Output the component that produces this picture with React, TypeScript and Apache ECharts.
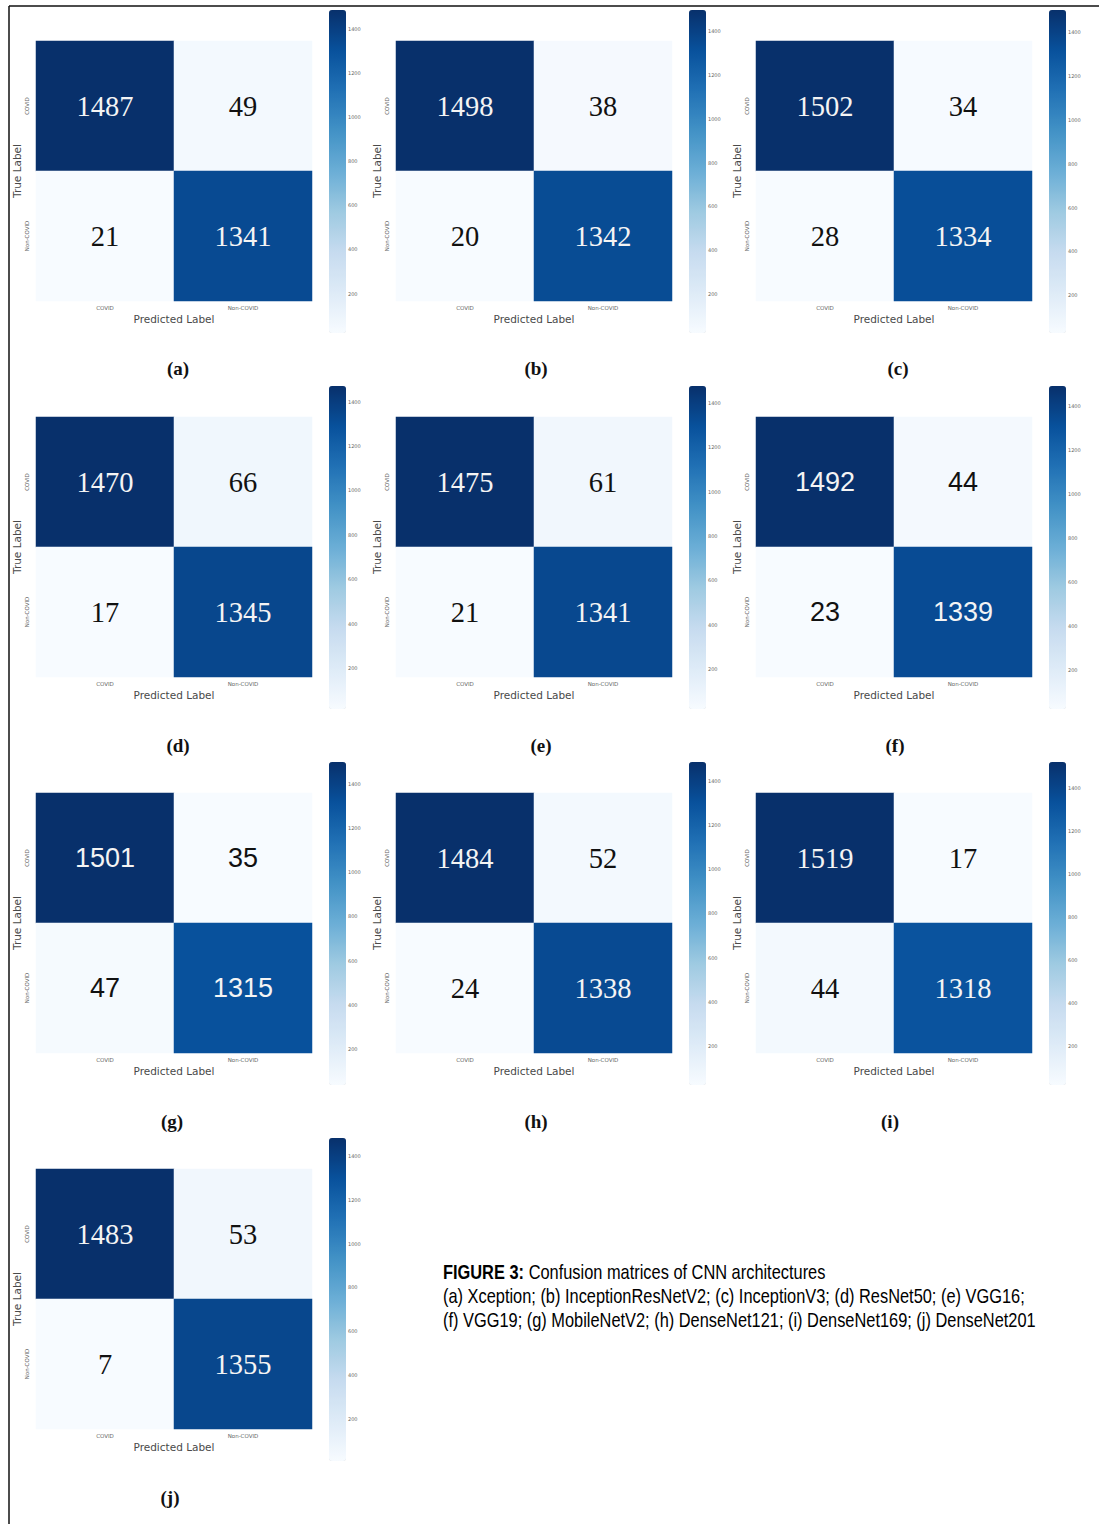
import React, { useEffect, useRef } from 'react';
import * as echarts from 'echarts';

// ---- data ----
const CATEGORIES = ['COVID', 'Non-COVID'];
// order: [true COVID/pred COVID, true COVID/pred Non-COVID, true Non-COVID/pred COVID, true Non-COVID/pred Non-COVID]
const XCEPTION = [1487, 49, 21, 1341];
const INCEPTION_RESNET_V2 = [1498, 38, 20, 1342];
const INCEPTION_V3 = [1502, 34, 28, 1334];
const RESNET50 = [1470, 66, 17, 1345];
const VGG16 = [1475, 61, 21, 1341];
const VGG19 = [1492, 44, 23, 1339];
const MOBILENET_V2 = [1501, 35, 47, 1315];
const DENSENET121 = [1484, 52, 24, 1338];
const DENSENET169 = [1519, 17, 44, 1318];
const DENSENET201 = [1483, 53, 7, 1355];
const PANELS = [XCEPTION, INCEPTION_RESNET_V2, INCEPTION_V3, RESNET50, VGG16, VGG19, MOBILENET_V2, DENSENET121, DENSENET169, DENSENET201];
const PANEL_TAGS = ['(a)', '(b)', '(c)', '(d)', '(e)', '(f)', '(g)', '(h)', '(i)', '(j)'];
const COLORBAR_TICKS = [200, 400, 600, 800, 1000, 1200, 1400];
const X_NAME = 'Predicted Label';
const Y_NAME = 'True Label';
const CAPTION_TITLE = 'FIGURE 3:';
const CAPTION_LINE1 = ' Confusion matrices of CNN architectures';
const CAPTION_LINE2 = '(a) Xception; (b) InceptionResNetV2; (c) InceptionV3; (d) ResNet50; (e) VGG16;';
const CAPTION_LINE3 = '(f) VGG19; (g) MobileNetV2; (h) DenseNet121; (i) DenseNet169; (j) DenseNet201';

// ---- styles / layout ----
const BLUES = ['#f7fbff', '#deebf7', '#c6dbef', '#9ecae1', '#6baed6', '#4292c6', '#2171b5', '#08519c', '#08306b'];
const NUMBER_FONT = ['serif', 'serif', 'serif', 'serif', 'serif', 'sans', 'sans', 'serif', 'serif', 'serif'];
const SERIF = 'Liberation Serif';
const SANS = 'Liberation Sans';
const COL_X = [36, 396, 756];
const ROW_Y = [41, 417, 793, 1169];
const TAG_POS = [
  [178, 368], [536, 368], [898, 368],
  [178, 745], [541, 745], [895, 745],
  [172, 1121], [536, 1121], [890, 1121],
  [170, 1497],
];

function buildOption() {
  const grid: any[] = [];
  const xAxis: any[] = [];
  const yAxis: any[] = [];
  const series: any[] = [];
  const visualMap: any[] = [];
  const graphic: any[] = [];

  PANELS.forEach((vals, i) => {
    const r = Math.floor(i / 3);
    const c = i % 3;
    const gx = COL_X[c];
    const gy = ROW_Y[r];
    const mn = Math.min(...vals);
    const mx = Math.max(...vals);
    grid.push({ left: gx, top: gy, width: 276, height: 260, containLabel: false });
    grid.push({ left: gx + 293, top: gy - 31, width: 17, height: 323, containLabel: false });
    const hg = 2 * i;
    const cg = 2 * i + 1;
    xAxis.push({
      type: 'category', gridIndex: hg, data: CATEGORIES,
      name: X_NAME, nameLocation: 'middle', nameGap: 12,
      nameTextStyle: { fontSize: 10.5, color: '#4a4a4a', fontFamily: 'DejaVu Sans' },
      axisLine: { show: false }, axisTick: { show: false }, splitLine: { show: false },
      axisLabel: { fontSize: 5.5, color: '#666', margin: 4, fontFamily: 'DejaVu Sans' },
    });
    yAxis.push({
      type: 'category', gridIndex: hg, data: CATEGORIES, inverse: true,
      name: Y_NAME, nameLocation: 'middle', nameGap: 14, nameRotate: 90,
      nameTextStyle: { fontSize: 10.5, color: '#4a4a4a', fontFamily: 'DejaVu Sans' },
      axisLine: { show: false }, axisTick: { show: false }, splitLine: { show: false },
      axisLabel: { fontSize: 5.5, color: '#666', margin: 6, rotate: 90, fontFamily: 'DejaVu Sans' },
    });
    xAxis.push({ type: 'value', gridIndex: cg, show: false, min: 0, max: 1 });
    yAxis.push({
      type: 'value', gridIndex: cg, position: 'right', min: mn, max: mx,
      axisLine: { show: false }, splitLine: { show: false },
      axisTick: { show: true, length: 3, inside: false, customValues: COLORBAR_TICKS, lineStyle: { color: '#666', width: 0.6 } },
      axisLabel: { show: true, fontSize: 5, color: '#666', margin: 2, customValues: COLORBAR_TICKS, formatter: (v: number) => String(v), fontFamily: 'DejaVu Sans' },
    });

    const sans = NUMBER_FONT[i] === 'sans';
    const fam = sans ? SANS : SERIF;
    const fs = sans ? 27 : 28.5;
    const data = vals.map((v, k) => {
      const x = k % 2;
      const y = Math.floor(k / 2);
      const t = (v - mn) / (mx - mn);
      return {
        value: [x, y, v],
        label: { formatter: (t > 0.5 ? '{w|' : '{k|') + v + '}' },
      };
    });
    series.push({
      type: 'heatmap', xAxisIndex: hg, yAxisIndex: hg, data,
      label: {
        show: true,
        rich: {
          w: { color: '#f4f4f4', fontFamily: fam, fontSize: fs },
          k: { color: '#111', fontFamily: fam, fontSize: fs },
        },
      },
      itemStyle: { borderWidth: 0 },
      emphasis: { disabled: true },
    });
    visualMap.push({
      type: 'continuous', seriesIndex: i, min: mn, max: mx, dimension: 2,
      left: gx + 293, top: gy - 31, itemWidth: 17, itemHeight: 323, padding: 0,
      calculable: false, hoverLink: false, text: null, showLabel: false,
      inRange: { color: BLUES },
    });
    graphic.push({
      type: 'text', x: TAG_POS[i][0], y: TAG_POS[i][1],
      style: {
        text: PANEL_TAGS[i], fill: '#111', fontWeight: 'bold', fontSize: 19, fontFamily: SERIF,
        textAlign: 'center', textVerticalAlign: 'middle',
      },
    });
  });
  PANELS.forEach((_, i) => {
    series.push({ type: 'scatter', xAxisIndex: 2 * i + 1, yAxisIndex: 2 * i + 1, data: [], silent: true });
  });

  // frame
  graphic.push({ type: 'line', shape: { x1: 9, y1: 6, x2: 1099, y2: 6 }, style: { stroke: '#111', lineWidth: 1.5 } });
  graphic.push({ type: 'line', shape: { x1: 9, y1: 6, x2: 9, y2: 1524 }, style: { stroke: '#111', lineWidth: 1.5 } });

  // caption (Arial Narrow look: Liberation Sans compressed horizontally)
  const capFont = 'Liberation Sans';
  const SX = 0.82;
  graphic.push({
    type: 'text', x: 443, y: 1272, scaleX: SX,
    style: {
      text: '{b|' + CAPTION_TITLE + '}{r|' + CAPTION_LINE1 + '}',
      rich: {
        b: { fontWeight: 'bold', fontSize: 20, fontFamily: capFont, fill: '#000' },
        r: { fontSize: 20, fontFamily: capFont, fill: '#000' },
      },
      textVerticalAlign: 'middle',
    },
  });
  graphic.push({
    type: 'text', x: 443, y: 1296, scaleX: SX,
    style: { text: CAPTION_LINE2, fontSize: 20, fontFamily: capFont, fill: '#000', textVerticalAlign: 'middle' },
  });
  graphic.push({
    type: 'text', x: 443, y: 1320, scaleX: SX,
    style: { text: CAPTION_LINE3, fontSize: 20, fontFamily: capFont, fill: '#000', textVerticalAlign: 'middle' },
  });

  return {
    animation: false,
    backgroundColor: '#ffffff',
    grid, xAxis, yAxis, series, visualMap, graphic,
  };
}

export default function App() {
  const ref = useRef<HTMLDivElement>(null);
  useEffect(() => {
    document.body.style.margin = '0';
    if (!ref.current) return;
    const chart = echarts.init(ref.current, undefined, { renderer: 'svg' });
    chart.setOption(buildOption() as any);
    return () => chart.dispose();
  }, []);
  return <div ref={ref} style={{ width: 1099, height: 1524 }} />;
}
